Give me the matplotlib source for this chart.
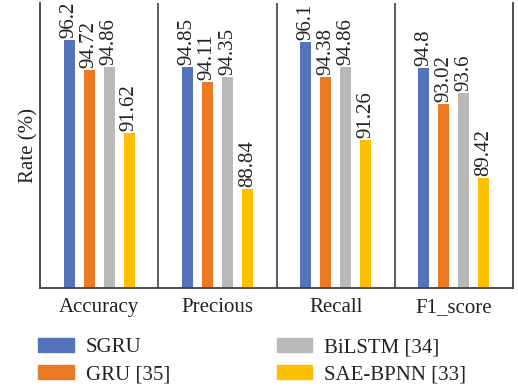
import matplotlib
matplotlib.use("Agg")
import matplotlib.pyplot as plt
from matplotlib.patches import Patch
import numpy as np

plt.rcParams['font.family'] = ['Liberation Serif', 'DejaVu Serif']

# metrics and model scores
categories = ['Accuracy', 'Precious', 'Recall', 'F1_score']
models = ['SGRU', 'GRU [35]', 'BiLSTM [34]', 'SAE-BPNN [33]']
sgru = [96.2, 94.85, 96.1, 94.8]
gru = [94.72, 94.11, 94.38, 93.02]
bilstm = [94.86, 94.35, 94.86, 93.6]
saebpnn = [91.62, 88.84, 91.26, 89.42]
labels_txt = [['96.2', '94.85', '96.1', '94.8'],
              ['94.72', '94.11', '94.38', '93.02'],
              ['94.86', '94.35', '94.86', '93.6'],
              ['91.62', '88.84', '91.26', '89.42']]
colors = ['#5473BA', '#EC7A25', '#B9B9B9', '#FCC000']

fig = plt.figure(figsize=(5.18, 3.89), dpi=100)
ax = fig.add_axes([40/518, 1-288/389, 473/518, 285/389])

x = np.arange(len(categories))
step = 0.1695
width = 0.093
series = [sgru, gru, bilstm, saebpnn]
fs = 15
txtc = '#222222'

for i, vals in enumerate(series):
    pos = x + (i - 1.5) * step
    ax.bar(pos, [v - 84 for v in vals], width, bottom=84, color=colors[i])
    for p, v, t in zip(pos, vals, labels_txt[i]):
        ax.text(p, v + 0.1, t, rotation=90, ha='center', va='bottom',
                fontsize=fs, color=txtc, clip_on=False)

ax.set_xlim(-0.5, 3.5)
ax.set_ylim(84, 98)
for b in [0.5, 1.5, 2.5]:
    ax.axvline(b, color='#404040', lw=1.2)
ax.spines['top'].set_visible(False)
for s in ['left', 'right', 'bottom']:
    ax.spines[s].set_color('#404040')
    ax.spines[s].set_linewidth(1.3)
ax.set_yticks([])
ax.set_xticks(x)
ax.set_xticklabels(categories, fontsize=fs, color=txtc)
ax.tick_params(axis='x', length=0, pad=7)
ax.set_ylabel('Rate (%)', fontsize=fs, color=txtc, labelpad=1)

handles = [Patch(color=c) for c in colors]
fig.legend(handles, models, loc='upper left', bbox_to_anchor=(34/518, 1-334/389),
           ncol=2, frameon=False, fontsize=fs, handlelength=1.7, handleheight=0.62,
           handletextpad=0.6, columnspacing=5.1, labelspacing=0.38,
           labelcolor=txtc, borderaxespad=0, borderpad=0.2)

fig.savefig('out.png', dpi=100)
